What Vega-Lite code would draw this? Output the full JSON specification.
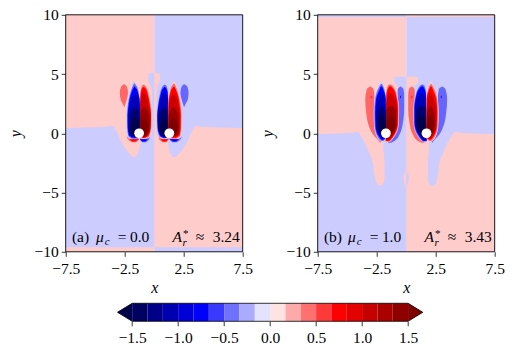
{
"$schema":"https://vega.github.io/schema/vega-lite/v6.json",
"padding":{"left":7.7,"top":7.8,"right":0,"bottom":0},
"background":"white",
"config":{"view":{"stroke":null},"axis":{"grid":false,"domain":false,"tickColor":"black","tickSize":4.5,"tickWidth":0.8,"labelColor":"black","labelFont":"Liberation Serif","labelFontSize":15.5,"labelPadding":3,"labelOverlap":false,"labelFlush":false,"labelBound":false,"titleFont":"Liberation Serif","titleFontStyle":"italic","titleFontWeight":"normal","titleFontSize":16,"titleColor":"black"}},
"datasets":{
"a":[
{"s":"a01","v":-0.15,"y":-10,"l":0,"r":7.5},{"s":"a01","v":-0.15,"y":10,"l":0,"r":7.5},
{"s":"a02","v":0.15,"y":-9.62,"l":0,"r":7.5},{"s":"a02","v":0.15,"y":0.42,"l":0,"r":7.5},{"s":"a02","v":0.15,"y":0.421,"l":3.3,"r":7.5},{"s":"a02","v":0.15,"y":0.5,"l":3.35,"r":5},{"s":"a02","v":0.15,"y":0.62,"l":3.5,"r":3.6},
{"s":"a03","v":-0.15,"y":-2.05,"l":1.65,"r":1.7},{"s":"a03","v":-0.15,"y":-1.77,"l":1.41,"r":2.05},{"s":"a03","v":-0.15,"y":-1.35,"l":1.28,"r":2.4},{"s":"a03","v":-0.15,"y":-0.79,"l":1.15,"r":2.75},{"s":"a03","v":-0.15,"y":-0.22,"l":1.0,"r":3.0},{"s":"a03","v":-0.15,"y":0.2,"l":0.9,"r":3.2},{"s":"a03","v":-0.15,"y":0.43,"l":0.85,"r":3.4},
{"s":"a04","v":0.15,"y":0.4,"l":0,"r":0.2},{"s":"a04","v":0.15,"y":3.6,"l":0,"r":0.2},{"s":"a04","v":0.15,"y":4.1,"l":0,"r":0.35},{"s":"a04","v":0.15,"y":4.5,"l":0,"r":0.5},{"s":"a04","v":0.15,"y":4.95,"l":0,"r":0.5},{"s":"a04","v":0.15,"y":5.1,"l":0,"r":0.25},
{"s":"a05","v":0.45,"y":-0.76,"l":0.7,"r":1.0},{"s":"a05","v":0.45,"y":-0.55,"l":0.45,"r":1.21},{"s":"a05","v":0.45,"y":-0.3,"l":0.38,"r":1.21},
{"s":"a06","v":0.75,"y":-0.7,"l":0.75,"r":1.0},{"s":"a06","v":0.75,"y":-0.5,"l":0.55,"r":1.21},
{"s":"a07","v":-0.45,"y":-0.76,"l":1.55,"r":1.9},{"s":"a07","v":-0.45,"y":-0.55,"l":1.3,"r":2.2},{"s":"a07","v":-0.45,"y":-0.3,"l":1.22,"r":2.32},
{"s":"a08","v":-0.75,"y":-0.7,"l":1.6,"r":1.85},{"s":"a08","v":-0.75,"y":-0.5,"l":1.3,"r":2.1},
{"s":"a09","v":-0.45,"y":2.22,"l":2.52,"r":2.54},{"s":"a09","v":-0.45,"y":2.45,"l":2.45,"r":2.65},{"s":"a09","v":-0.45,"y":2.87,"l":2.32,"r":2.85},{"s":"a09","v":-0.45,"y":3.43,"l":2.22,"r":2.91},{"s":"a09","v":-0.45,"y":3.95,"l":2.33,"r":2.8},{"s":"a09","v":-0.45,"y":4.14,"l":2.5,"r":2.55},
{"s":"a10","v":-0.15,"y":-0.48,"l":0.8,"r":1.05},{"s":"a10","v":-0.15,"y":-0.4,"l":0.5,"r":1.21},{"s":"a10","v":-0.15,"y":0,"l":0.2,"r":1.21},{"s":"a10","v":-0.15,"y":1,"l":0.2,"r":1.21},{"s":"a10","v":-0.15,"y":2,"l":0.2,"r":1.2},{"s":"a10","v":-0.15,"y":3,"l":0.3,"r":1.18},{"s":"a10","v":-0.15,"y":3.8,"l":0.5,"r":1.18},{"s":"a10","v":-0.15,"y":4.25,"l":0.85,"r":1.1},{"s":"a10","v":-0.15,"y":4.35,"l":0.95,"r":1.05},
{"s":"a11","v":-0.45,"y":-0.42,"l":0.8,"r":1.0},{"s":"a11","v":-0.45,"y":-0.3,"l":0.45,"r":1.21},{"s":"a11","v":-0.45,"y":0.5,"l":0.26,"r":1.21},{"s":"a11","v":-0.45,"y":1.5,"l":0.24,"r":1.21},{"s":"a11","v":-0.45,"y":2.5,"l":0.33,"r":1.2},{"s":"a11","v":-0.45,"y":3.3,"l":0.48,"r":1.18},{"s":"a11","v":-0.45,"y":3.8,"l":0.63,"r":1.1},{"s":"a11","v":-0.45,"y":4.05,"l":0.8,"r":1.0},{"s":"a11","v":-0.45,"y":4.1,"l":0.88,"r":0.92},
{"s":"a12","v":-0.75,"y":-0.38,"l":0.8,"r":1.0},{"s":"a12","v":-0.75,"y":-0.2,"l":0.5,"r":1.21},{"s":"a12","v":-0.75,"y":0.5,"l":0.3,"r":1.21},{"s":"a12","v":-0.75,"y":1.5,"l":0.27,"r":1.21},{"s":"a12","v":-0.75,"y":2.5,"l":0.38,"r":1.19},{"s":"a12","v":-0.75,"y":3.3,"l":0.55,"r":1.15},{"s":"a12","v":-0.75,"y":3.75,"l":0.72,"r":1.05},{"s":"a12","v":-0.75,"y":3.9,"l":0.85,"r":0.92},
{"s":"a13","v":-1.05,"y":-0.35,"l":0.8,"r":0.95},{"s":"a13","v":-1.05,"y":-0.1,"l":0.5,"r":1.21},{"s":"a13","v":-1.05,"y":0.5,"l":0.33,"r":1.21},{"s":"a13","v":-1.05,"y":1.5,"l":0.31,"r":1.21},{"s":"a13","v":-1.05,"y":2.3,"l":0.45,"r":1.19},{"s":"a13","v":-1.05,"y":3,"l":0.62,"r":1.1},{"s":"a13","v":-1.05,"y":3.35,"l":0.8,"r":1.0},{"s":"a13","v":-1.05,"y":3.45,"l":0.88,"r":0.92},
{"s":"a14","v":-1.35,"y":-0.3,"l":0.85,"r":0.95},{"s":"a14","v":-1.35,"y":-0.05,"l":0.55,"r":1.21},{"s":"a14","v":-1.35,"y":0.5,"l":0.38,"r":1.21},{"s":"a14","v":-1.35,"y":1.2,"l":0.38,"r":1.21},{"s":"a14","v":-1.35,"y":1.8,"l":0.5,"r":1.15},{"s":"a14","v":-1.35,"y":2.2,"l":0.75,"r":0.95},
{"s":"a15","v":-1.65,"y":-0.2,"l":0.85,"r":0.95},{"s":"a15","v":-1.65,"y":0,"l":0.6,"r":1.21},{"s":"a15","v":-1.65,"y":0.5,"l":0.45,"r":1.21},{"s":"a15","v":-1.65,"y":1,"l":0.6,"r":1.15},{"s":"a15","v":-1.65,"y":1.3,"l":0.85,"r":0.95},
{"s":"a16","v":0.15,"y":-0.48,"l":1.4,"r":2.0},{"s":"a16","v":0.15,"y":-0.35,"l":1.21,"r":2.25},{"s":"a16","v":0.15,"y":0.5,"l":1.21,"r":2.35},{"s":"a16","v":0.15,"y":1.5,"l":1.21,"r":2.36},{"s":"a16","v":0.15,"y":2.5,"l":1.2,"r":2.28},{"s":"a16","v":0.15,"y":3.3,"l":1.3,"r":2.12},{"s":"a16","v":0.15,"y":3.9,"l":1.42,"r":1.9},{"s":"a16","v":0.15,"y":4.3,"l":1.6,"r":1.8},{"s":"a16","v":0.15,"y":4.42,"l":1.68,"r":1.72},
{"s":"a17","v":0.45,"y":-0.45,"l":1.4,"r":1.9},{"s":"a17","v":0.45,"y":-0.2,"l":1.21,"r":2.2},{"s":"a17","v":0.45,"y":0.5,"l":1.21,"r":2.29},{"s":"a17","v":0.45,"y":1.5,"l":1.21,"r":2.3},{"s":"a17","v":0.45,"y":2.5,"l":1.21,"r":2.22},{"s":"a17","v":0.45,"y":3.3,"l":1.3,"r":2.05},{"s":"a17","v":0.45,"y":3.9,"l":1.45,"r":1.85},{"s":"a17","v":0.45,"y":4.2,"l":1.65,"r":1.72},
{"s":"a18","v":0.75,"y":-0.38,"l":1.4,"r":1.85},{"s":"a18","v":0.75,"y":-0.15,"l":1.21,"r":2.15},{"s":"a18","v":0.75,"y":0.5,"l":1.21,"r":2.24},{"s":"a18","v":0.75,"y":1.5,"l":1.21,"r":2.25},{"s":"a18","v":0.75,"y":2.5,"l":1.21,"r":2.15},{"s":"a18","v":0.75,"y":3.3,"l":1.33,"r":1.98},{"s":"a18","v":0.75,"y":3.75,"l":1.5,"r":1.8},{"s":"a18","v":0.75,"y":3.95,"l":1.65,"r":1.7},
{"s":"a19","v":1.05,"y":-0.3,"l":1.45,"r":1.8},{"s":"a19","v":1.05,"y":-0.1,"l":1.21,"r":2.1},{"s":"a19","v":1.05,"y":0.5,"l":1.21,"r":2.18},{"s":"a19","v":1.05,"y":1.5,"l":1.21,"r":2.18},{"s":"a19","v":1.05,"y":2.3,"l":1.25,"r":2.05},{"s":"a19","v":1.05,"y":3,"l":1.4,"r":1.9},{"s":"a19","v":1.05,"y":3.3,"l":1.62,"r":1.68},
{"s":"a20","v":1.35,"y":-0.2,"l":1.5,"r":1.8},{"s":"a20","v":1.35,"y":0,"l":1.21,"r":2.05},{"s":"a20","v":1.35,"y":0.5,"l":1.21,"r":2.1},{"s":"a20","v":1.35,"y":1.2,"l":1.21,"r":2.08},{"s":"a20","v":1.35,"y":1.8,"l":1.3,"r":1.95},{"s":"a20","v":1.35,"y":2.2,"l":1.6,"r":1.7},
{"s":"a21","v":1.65,"y":-0.1,"l":1.6,"r":1.8},{"s":"a21","v":1.65,"y":0.1,"l":1.21,"r":1.95},{"s":"a21","v":1.65,"y":0.5,"l":1.21,"r":2.0},{"s":"a21","v":1.65,"y":1,"l":1.3,"r":1.9},{"s":"a21","v":1.65,"y":1.3,"l":1.6,"r":1.7}
],
"b":[
{"s":"b01","v":-0.15,"y":-10,"l":0,"r":7.5},{"s":"b01","v":-0.15,"y":10,"l":0,"r":7.5},
{"s":"b02","v":0.15,"y":9.82,"l":0,"r":7.5},{"s":"b02","v":0.15,"y":10,"l":0,"r":7.5},
{"s":"b03","v":0.15,"y":-10,"l":0,"r":7.5},{"s":"b03","v":0.15,"y":-0.08,"l":0,"r":7.5},{"s":"b03","v":0.15,"y":-0.079,"l":3.9,"r":7.5},{"s":"b03","v":0.15,"y":0,"l":4.0,"r":5.2},{"s":"b03","v":0.15,"y":0.14,"l":4.1,"r":4.15},
{"s":"b04","v":-0.15,"y":-4.44,"l":2.2,"r":2.3},{"s":"b04","v":-0.15,"y":-4.3,"l":1.95,"r":2.45},{"s":"b04","v":-0.15,"y":-3.6,"l":1.84,"r":2.68},{"s":"b04","v":-0.15,"y":-2.47,"l":1.84,"r":2.82},{"s":"b04","v":-0.15,"y":-1.07,"l":1.95,"r":3.39},{"s":"b04","v":-0.15,"y":-0.6,"l":1.9,"r":3.6},{"s":"b04","v":-0.15,"y":-0.07,"l":1.75,"r":3.95},
{"s":"b05","v":-0.15,"y":-4.9,"l":0,"r":0.02},{"s":"b05","v":-0.15,"y":-4.4,"l":0,"r":0.08},{"s":"b05","v":-0.15,"y":-4,"l":0,"r":0.2},{"s":"b05","v":-0.15,"y":-3.6,"l":0.02,"r":0.22},{"s":"b05","v":-0.15,"y":-3.26,"l":0.08,"r":0.12},
{"s":"b06","v":0.15,"y":-0.1,"l":0,"r":0.75},{"s":"b06","v":0.15,"y":3,"l":0,"r":0.6},{"s":"b06","v":0.15,"y":4,"l":0,"r":0.7},{"s":"b06","v":0.15,"y":4.2,"l":0,"r":0.95},{"s":"b06","v":0.15,"y":4.7,"l":0,"r":1.0},{"s":"b06","v":0.15,"y":4.78,"l":0,"r":0.95},
{"s":"b07","v":-0.45,"y":-0.79,"l":2.2,"r":2.22},{"s":"b07","v":-0.45,"y":-0.65,"l":2.12,"r":2.32},{"s":"b07","v":-0.45,"y":-0.08,"l":2.4,"r":2.82},{"s":"b07","v":-0.45,"y":0.62,"l":2.6,"r":3.16},{"s":"b07","v":-0.45,"y":1.74,"l":2.68,"r":3.39},{"s":"b07","v":-0.45,"y":2.87,"l":2.68,"r":3.47},{"s":"b07","v":-0.45,"y":3.71,"l":2.77,"r":3.33},{"s":"b07","v":-0.45,"y":3.94,"l":3.03,"r":3.07},
{"s":"b08","v":-0.75,"y":2.95,"l":2.96,"r":2.98},{"s":"b08","v":-0.75,"y":3.07,"l":2.93,"r":3.01},{"s":"b08","v":-0.75,"y":3.2,"l":2.96,"r":2.98},
{"s":"b09","v":0.45,"y":-0.79,"l":1.27,"r":1.55},{"s":"b09","v":0.45,"y":-0.65,"l":0.99,"r":1.47},{"s":"b09","v":0.45,"y":-0.08,"l":0.56,"r":0.99},{"s":"b09","v":0.45,"y":0.9,"l":0.28,"r":0.76},{"s":"b09","v":0.45,"y":2.03,"l":0.17,"r":0.73},{"s":"b09","v":0.45,"y":3.15,"l":0.17,"r":0.73},{"s":"b09","v":0.45,"y":3.71,"l":0.23,"r":0.71},{"s":"b09","v":0.45,"y":3.94,"l":0.46,"r":0.5},
{"s":"b10","v":0.75,"y":2.95,"l":0.47,"r":0.49},{"s":"b10","v":0.75,"y":3.07,"l":0.44,"r":0.52},{"s":"b10","v":0.75,"y":3.2,"l":0.47,"r":0.49},
{"s":"b11","v":-0.15,"y":-0.72,"l":1.35,"r":1.73},{"s":"b11","v":-0.15,"y":-0.1,"l":0.88,"r":1.73},{"s":"b11","v":-0.15,"y":0.9,"l":0.62,"r":1.73},{"s":"b11","v":-0.15,"y":2,"l":0.6,"r":1.73},{"s":"b11","v":-0.15,"y":3.15,"l":0.74,"r":1.7},{"s":"b11","v":-0.15,"y":3.9,"l":0.95,"r":1.65},{"s":"b11","v":-0.15,"y":4.28,"l":1.2,"r":1.55},{"s":"b11","v":-0.15,"y":4.35,"l":1.35,"r":1.45},
{"s":"b12","v":-0.45,"y":-0.7,"l":1.4,"r":1.73},{"s":"b12","v":-0.45,"y":-0.1,"l":0.93,"r":1.73},{"s":"b12","v":-0.45,"y":0.9,"l":0.66,"r":1.73},{"s":"b12","v":-0.45,"y":2,"l":0.65,"r":1.73},{"s":"b12","v":-0.45,"y":3.15,"l":0.8,"r":1.7},{"s":"b12","v":-0.45,"y":3.8,"l":1.02,"r":1.62},{"s":"b12","v":-0.45,"y":4.08,"l":1.25,"r":1.5},{"s":"b12","v":-0.45,"y":4.12,"l":1.35,"r":1.4},
{"s":"b13","v":-0.75,"y":-0.65,"l":1.42,"r":1.73},{"s":"b13","v":-0.75,"y":-0.08,"l":0.99,"r":1.73},{"s":"b13","v":-0.75,"y":0.9,"l":0.71,"r":1.73},{"s":"b13","v":-0.75,"y":2,"l":0.7,"r":1.73},{"s":"b13","v":-0.75,"y":3.15,"l":0.85,"r":1.68},{"s":"b13","v":-0.75,"y":3.75,"l":1.1,"r":1.55},{"s":"b13","v":-0.75,"y":3.98,"l":1.3,"r":1.4},
{"s":"b14","v":-1.05,"y":-0.55,"l":1.45,"r":1.73},{"s":"b14","v":-1.05,"y":-0.05,"l":1.05,"r":1.73},{"s":"b14","v":-1.05,"y":0.9,"l":0.76,"r":1.73},{"s":"b14","v":-1.05,"y":2,"l":0.76,"r":1.73},{"s":"b14","v":-1.05,"y":2.9,"l":0.93,"r":1.62},{"s":"b14","v":-1.05,"y":3.4,"l":1.25,"r":1.45},
{"s":"b15","v":-1.35,"y":-0.45,"l":1.5,"r":1.73},{"s":"b15","v":-1.35,"y":0,"l":1.1,"r":1.73},{"s":"b15","v":-1.35,"y":0.9,"l":0.82,"r":1.73},{"s":"b15","v":-1.35,"y":1.8,"l":0.85,"r":1.73},{"s":"b15","v":-1.35,"y":2.3,"l":1.15,"r":1.45},
{"s":"b16","v":-1.65,"y":-0.3,"l":1.5,"r":1.73},{"s":"b16","v":-1.65,"y":0.1,"l":1.15,"r":1.73},{"s":"b16","v":-1.65,"y":0.6,"l":0.95,"r":1.73},{"s":"b16","v":-1.65,"y":1.1,"l":0.95,"r":1.65},{"s":"b16","v":-1.65,"y":1.5,"l":1.25,"r":1.4},
{"s":"b17","v":0.15,"y":-0.7,"l":1.95,"r":2.15},{"s":"b17","v":0.15,"y":-0.4,"l":1.73,"r":2.45},{"s":"b17","v":0.15,"y":0.6,"l":1.73,"r":2.72},{"s":"b17","v":0.15,"y":1.7,"l":1.73,"r":2.76},{"s":"b17","v":0.15,"y":2.9,"l":1.7,"r":2.68},{"s":"b17","v":0.15,"y":3.7,"l":1.85,"r":2.45},{"s":"b17","v":0.15,"y":4.25,"l":2.0,"r":2.2},{"s":"b17","v":0.15,"y":4.38,"l":2.05,"r":2.15},
{"s":"b18","v":0.45,"y":-0.65,"l":1.95,"r":2.1},{"s":"b18","v":0.45,"y":-0.37,"l":1.73,"r":2.38},{"s":"b18","v":0.45,"y":0.6,"l":1.73,"r":2.66},{"s":"b18","v":0.45,"y":1.7,"l":1.73,"r":2.7},{"s":"b18","v":0.45,"y":2.9,"l":1.73,"r":2.62},{"s":"b18","v":0.45,"y":3.7,"l":1.85,"r":2.4},{"s":"b18","v":0.45,"y":4.15,"l":2.05,"r":2.15},
{"s":"b19","v":0.75,"y":-0.55,"l":1.95,"r":2.1},{"s":"b19","v":0.75,"y":-0.3,"l":1.73,"r":2.3},{"s":"b19","v":0.75,"y":0.6,"l":1.73,"r":2.6},{"s":"b19","v":0.75,"y":1.7,"l":1.73,"r":2.63},{"s":"b19","v":0.75,"y":2.9,"l":1.73,"r":2.55},{"s":"b19","v":0.75,"y":3.6,"l":1.9,"r":2.3},{"s":"b19","v":0.75,"y":3.95,"l":2.05,"r":2.15},
{"s":"b20","v":1.05,"y":-0.45,"l":1.95,"r":2.05},{"s":"b20","v":1.05,"y":-0.2,"l":1.73,"r":2.25},{"s":"b20","v":1.05,"y":0.6,"l":1.73,"r":2.52},{"s":"b20","v":1.05,"y":1.7,"l":1.73,"r":2.55},{"s":"b20","v":1.05,"y":2.7,"l":1.8,"r":2.4},{"s":"b20","v":1.05,"y":3.35,"l":2.0,"r":2.15},
{"s":"b21","v":1.35,"y":-0.3,"l":2.0,"r":2.05},{"s":"b21","v":1.35,"y":-0.1,"l":1.73,"r":2.2},{"s":"b21","v":1.35,"y":0.6,"l":1.73,"r":2.45},{"s":"b21","v":1.35,"y":1.3,"l":1.73,"r":2.45},{"s":"b21","v":1.35,"y":2,"l":1.85,"r":2.25},{"s":"b21","v":1.35,"y":2.3,"l":2.0,"r":2.1},
{"s":"b22","v":1.65,"y":-0.1,"l":1.9,"r":2.1},{"s":"b22","v":1.65,"y":0.1,"l":1.73,"r":2.2},{"s":"b22","v":1.65,"y":0.6,"l":1.73,"r":2.35},{"s":"b22","v":1.65,"y":1.1,"l":1.8,"r":2.3},{"s":"b22","v":1.65,"y":1.5,"l":2.0,"r":2.1}
],
"frame":[{"x0":-7.5,"x1":7.5,"y0":-10,"y1":10}],
"textSmallItalic":[{"x":-4.2,"y":-9.45,"a":"c"},{"x":2.4,"y":-9.5,"a":"r"}],
"textStar":[{"x":2.45,"y":-8.75,"t":"*"}],
"textItalic":[{"x":-4.94,"y":-9.17,"t":"μ"},{"x":1.55,"y":-9.17,"t":"A"}]
},
"vconcat":[
{"hconcat":[
{"width":177,"height":237,"resolve":{"scale":{"x":"independent","color":"independent"}},
"layer":[
{"data":{"name":"a"},"mark":{"type":"area","orient":"horizontal","interpolate":"monotone"},
"encoding":{"y":{"field":"y","type":"quantitative","scale":{"domain":[-10,10],"nice":false},"title":"y","axis":{"titlePadding":10,"values":[-10,-5,0,5,10],"labelExpr":"replace(format(datum.value,'d'),'-','\u2212')"}},
"x":{"field":"l","type":"quantitative","stack":null,"scale":{"domain":[-7.5,7.5],"nice":false},"title":"x","axis":{"labelPadding":5.5,"titlePadding":2,"values":[-7.5,-2.5,2.5,7.5],"labelExpr":"replace(format(datum.value,'.1f'),'-','\u2212')"}},
"x2":{"field":"r"},"detail":{"field":"s"},
"color":{"field":"v","type":"quantitative","legend":null,"scale":{"type":"threshold","domain":[-1.5,-1.2,-0.9,-0.6,-0.3,0,0.3,0.6,0.9,1.2,1.5],"range":["#00004c","#000070","#0000b8","#0000ff","#6666ff","#ccccff","#ffcccc","#ff6666","#ff0000","#cc0000","#990000","#7f0000"]}}}},
{"data":{"name":"a"},"mark":{"type":"area","orient":"horizontal","interpolate":"monotone"},
"encoding":{"y":{"field":"y","type":"quantitative"},
"x":{"field":"l","type":"quantitative","stack":null,"scale":{"domain":[7.5,-7.5],"nice":false},"axis":null},
"x2":{"field":"r"},"detail":{"field":"s"},
"color":{"field":"v","type":"quantitative","legend":null,"scale":{"type":"threshold","domain":[-1.5,-1.2,-0.9,-0.6,-0.3,0,0.3,0.6,0.9,1.2,1.5],"range":["#7f0000","#990000","#cc0000","#ff0000","#ff6666","#ffcccc","#ccccff","#6666ff","#0000ff","#0000b8","#000070","#00004c"]}}}},
{"data":{"values":[{"x":-1.28,"y":0},{"x":1.28,"y":0}]},"mark":{"type":"point","filled":true,"fill":"white","opacity":1,"size":95,"strokeWidth":0},
"encoding":{"x":{"field":"x","type":"quantitative","scale":{"domain":[-7.5,7.5],"nice":false},"axis":null},"y":{"field":"y","type":"quantitative"}}},
{"data":{"values":[{"x":-6.97,"y":-9.17,"t":"(a)"},{"x":-3.09,"y":-9.17,"t":"="},{"x":-2.06,"y":-9.17,"t":"0.0"},{"x":3.53,"y":-9.17,"t":"≈"},{"x":4.96,"y":-9.17,"t":"3.24"}]},"mark":{"type":"text","align":"left","baseline":"alphabetic","font":"Liberation Serif","fontSize":15.5,"color":"black"},
"encoding":{"x":{"field":"x","type":"quantitative","scale":{"domain":[-7.5,7.5],"nice":false},"axis":null},"y":{"field":"y","type":"quantitative"},"text":{"field":"t"}}},
{"data":{"name":"textItalic"},"mark":{"type":"text","align":"left","baseline":"alphabetic","font":"Liberation Serif","fontStyle":"italic","fontSize":15.5,"color":"black"},
"encoding":{"x":{"field":"x","type":"quantitative","scale":{"domain":[-7.5,7.5],"nice":false},"axis":null},"y":{"field":"y","type":"quantitative"},"text":{"field":"t"}}},
{"data":{"name":"textSmallItalic"},"mark":{"type":"text","align":"left","baseline":"alphabetic","font":"Liberation Serif","fontStyle":"italic","fontSize":11,"color":"black"},
"encoding":{"x":{"field":"x","type":"quantitative","scale":{"domain":[-7.5,7.5],"nice":false},"axis":null},"y":{"field":"y","type":"quantitative"},"text":{"field":"a"}}},
{"data":{"name":"textStar"},"mark":{"type":"text","align":"left","baseline":"alphabetic","font":"Liberation Serif","fontSize":11,"color":"black"},
"encoding":{"x":{"field":"x","type":"quantitative","scale":{"domain":[-7.5,7.5],"nice":false},"axis":null},"y":{"field":"y","type":"quantitative"},"text":{"field":"t"}}},
{"data":{"name":"frame"},"mark":{"type":"rect","fillOpacity":0,"stroke":"black","strokeWidth":0.9},
"encoding":{"x":{"field":"x0","type":"quantitative","scale":{"domain":[-7.5,7.5],"nice":false},"axis":null},"x2":{"field":"x1"},"y":{"field":"y0","type":"quantitative"},"y2":{"field":"y1"}}}
]},
{"width":177,"height":237,"resolve":{"scale":{"x":"independent","color":"independent"}},
"layer":[
{"data":{"name":"b"},"mark":{"type":"area","orient":"horizontal","interpolate":"monotone"},
"encoding":{"y":{"field":"y","type":"quantitative","scale":{"domain":[-10,10],"nice":false},"title":"y","axis":{"titlePadding":10,"values":[-10,-5,0,5,10],"labelExpr":"replace(format(datum.value,'d'),'-','\u2212')"}},
"x":{"field":"l","type":"quantitative","stack":null,"scale":{"domain":[-7.5,7.5],"nice":false},"title":"x","axis":{"labelPadding":5.5,"titlePadding":2,"values":[-7.5,-2.5,2.5,7.5],"labelExpr":"replace(format(datum.value,'.1f'),'-','\u2212')"}},
"x2":{"field":"r"},"detail":{"field":"s"},
"color":{"field":"v","type":"quantitative","legend":null,"scale":{"type":"threshold","domain":[-1.5,-1.2,-0.9,-0.6,-0.3,0,0.3,0.6,0.9,1.2,1.5],"range":["#00004c","#000070","#0000b8","#0000ff","#6666ff","#ccccff","#ffcccc","#ff6666","#ff0000","#cc0000","#990000","#7f0000"]}}}},
{"data":{"name":"b"},"mark":{"type":"area","orient":"horizontal","interpolate":"monotone"},
"encoding":{"y":{"field":"y","type":"quantitative"},
"x":{"field":"l","type":"quantitative","stack":null,"scale":{"domain":[7.5,-7.5],"nice":false},"axis":null},
"x2":{"field":"r"},"detail":{"field":"s"},
"color":{"field":"v","type":"quantitative","legend":null,"scale":{"type":"threshold","domain":[-1.5,-1.2,-0.9,-0.6,-0.3,0,0.3,0.6,0.9,1.2,1.5],"range":["#7f0000","#990000","#cc0000","#ff0000","#ff6666","#ffcccc","#ccccff","#6666ff","#0000ff","#0000b8","#000070","#00004c"]}}}},
{"data":{"values":[{"x":-1.72,"y":0},{"x":1.72,"y":0}]},"mark":{"type":"point","filled":true,"fill":"white","opacity":1,"size":95,"strokeWidth":0},
"encoding":{"x":{"field":"x","type":"quantitative","scale":{"domain":[-7.5,7.5],"nice":false},"axis":null},"y":{"field":"y","type":"quantitative"}}},
{"data":{"values":[{"x":-6.97,"y":-9.17,"t":"(b)"},{"x":-3.09,"y":-9.17,"t":"="},{"x":-2.06,"y":-9.17,"t":"1.0"},{"x":3.53,"y":-9.17,"t":"≈"},{"x":4.96,"y":-9.17,"t":"3.43"}]},"mark":{"type":"text","align":"left","baseline":"alphabetic","font":"Liberation Serif","fontSize":15.5,"color":"black"},
"encoding":{"x":{"field":"x","type":"quantitative","scale":{"domain":[-7.5,7.5],"nice":false},"axis":null},"y":{"field":"y","type":"quantitative"},"text":{"field":"t"}}},
{"data":{"name":"textItalic"},"mark":{"type":"text","align":"left","baseline":"alphabetic","font":"Liberation Serif","fontStyle":"italic","fontSize":15.5,"color":"black"},
"encoding":{"x":{"field":"x","type":"quantitative","scale":{"domain":[-7.5,7.5],"nice":false},"axis":null},"y":{"field":"y","type":"quantitative"},"text":{"field":"t"}}},
{"data":{"name":"textSmallItalic"},"mark":{"type":"text","align":"left","baseline":"alphabetic","font":"Liberation Serif","fontStyle":"italic","fontSize":11,"color":"black"},
"encoding":{"x":{"field":"x","type":"quantitative","scale":{"domain":[-7.5,7.5],"nice":false},"axis":null},"y":{"field":"y","type":"quantitative"},"text":{"field":"a"}}},
{"data":{"name":"textStar"},"mark":{"type":"text","align":"left","baseline":"alphabetic","font":"Liberation Serif","fontSize":11,"color":"black"},
"encoding":{"x":{"field":"x","type":"quantitative","scale":{"domain":[-7.5,7.5],"nice":false},"axis":null},"y":{"field":"y","type":"quantitative"},"text":{"field":"t"}}},
{"data":{"name":"frame"},"mark":{"type":"rect","fillOpacity":0,"stroke":"black","strokeWidth":0.9},
"encoding":{"x":{"field":"x0","type":"quantitative","scale":{"domain":[-7.5,7.5],"nice":false},"axis":null},"x2":{"field":"x1"},"y":{"field":"y0","type":"quantitative"},"y2":{"field":"y1"}}}
]}
],"spacing":7},
{"width":429,"height":18,
"layer":[
{"data":{"values":[{"l":-1.5,"r":-1.3333,"v":-1.417},{"l":-1.3333,"r":-1.1667,"v":-1.25},{"l":-1.1667,"r":-1,"v":-1.083},{"l":-1,"r":-0.8333,"v":-0.917},{"l":-0.8333,"r":-0.6667,"v":-0.75},{"l":-0.6667,"r":-0.5,"v":-0.583},{"l":-0.5,"r":-0.3333,"v":-0.417},{"l":-0.3333,"r":-0.1667,"v":-0.25},{"l":-0.1667,"r":0,"v":-0.083},{"l":0,"r":0.1667,"v":0.083},{"l":0.1667,"r":0.3333,"v":0.25},{"l":0.3333,"r":0.5,"v":0.417},{"l":0.5,"r":0.6667,"v":0.583},{"l":0.6667,"r":0.8333,"v":0.75},{"l":0.8333,"r":1,"v":0.917},{"l":1,"r":1.1667,"v":1.083},{"l":1.1667,"r":1.3333,"v":1.25},{"l":1.3333,"r":1.5,"v":1.417}]},
"mark":{"type":"rect"},
"encoding":{"x":{"field":"l","type":"quantitative","scale":{"domain":[-2.223,2.442],"nice":false,"zero":false},"title":null,"axis":{"labelPadding":5,"values":[-1.5,-1,-0.5,0,0.5,1,1.5],"labelExpr":"replace(format(datum.value,'.1f'),'-','\u2212')"}},"x2":{"field":"r"},
"color":{"field":"v","type":"quantitative","legend":null,"scale":{"type":"threshold","domain":[-1.5,-1.3333,-1.1667,-1,-0.8333,-0.6667,-0.5,-0.3333,-0.1667,0,0.1667,0.3333,0.5,0.6667,0.8333,1,1.1667,1.3333,1.5],"range":["#00004c","#000060","#000088","#0000b0","#0000d7","#0000ff","#3939ff","#7171ff","#aaaaff","#e3e3ff","#ffe3e3","#ffaaaa","#ff7171","#ff3939","#ff0000","#e30000","#c60000","#aa0000","#8e0000","#7f0000"]}}}},
{"data":{"values":[{"k":"under","x":-1.66,"top":0.5,"bot":0.5,"v":-1.6},{"k":"under","x":-1.5,"top":1,"bot":0,"v":-1.6},{"k":"over","x":1.5,"top":1,"bot":0,"v":1.6},{"k":"over","x":1.66,"top":0.5,"bot":0.5,"v":1.6}]},
"mark":{"type":"area","orient":"vertical","interpolate":"linear"},
"encoding":{"x":{"field":"x","type":"quantitative"},"y":{"field":"top","type":"quantitative","stack":null,"scale":{"domain":[0,1],"nice":false},"axis":null},"y2":{"field":"bot"},"detail":{"field":"k"},"color":{"field":"v","type":"quantitative","legend":null,"scale":{"type":"threshold","domain":[-1.5,-1.3333,-1.1667,-1,-0.8333,-0.6667,-0.5,-0.3333,-0.1667,0,0.1667,0.3333,0.5,0.6667,0.8333,1,1.1667,1.3333,1.5],"range":["#00004c","#000060","#000088","#0000b0","#0000d7","#0000ff","#3939ff","#7171ff","#aaaaff","#e3e3ff","#ffe3e3","#ffaaaa","#ff7171","#ff3939","#ff0000","#e30000","#c60000","#aa0000","#8e0000","#7f0000"]}}}},
{"data":{"values":[{"o":1,"x":-1.66,"y":0.5},{"o":2,"x":-1.5,"y":1},{"o":3,"x":1.5,"y":1},{"o":4,"x":1.66,"y":0.5},{"o":5,"x":1.5,"y":0},{"o":6,"x":-1.5,"y":0},{"o":7,"x":-1.66,"y":0.5}]},
"mark":{"type":"line","color":"black","strokeWidth":0.8},
"encoding":{"x":{"field":"x","type":"quantitative"},"y":{"field":"y","type":"quantitative"},"order":{"field":"o","type":"quantitative"}}}
]}
],"spacing":5.5
}
